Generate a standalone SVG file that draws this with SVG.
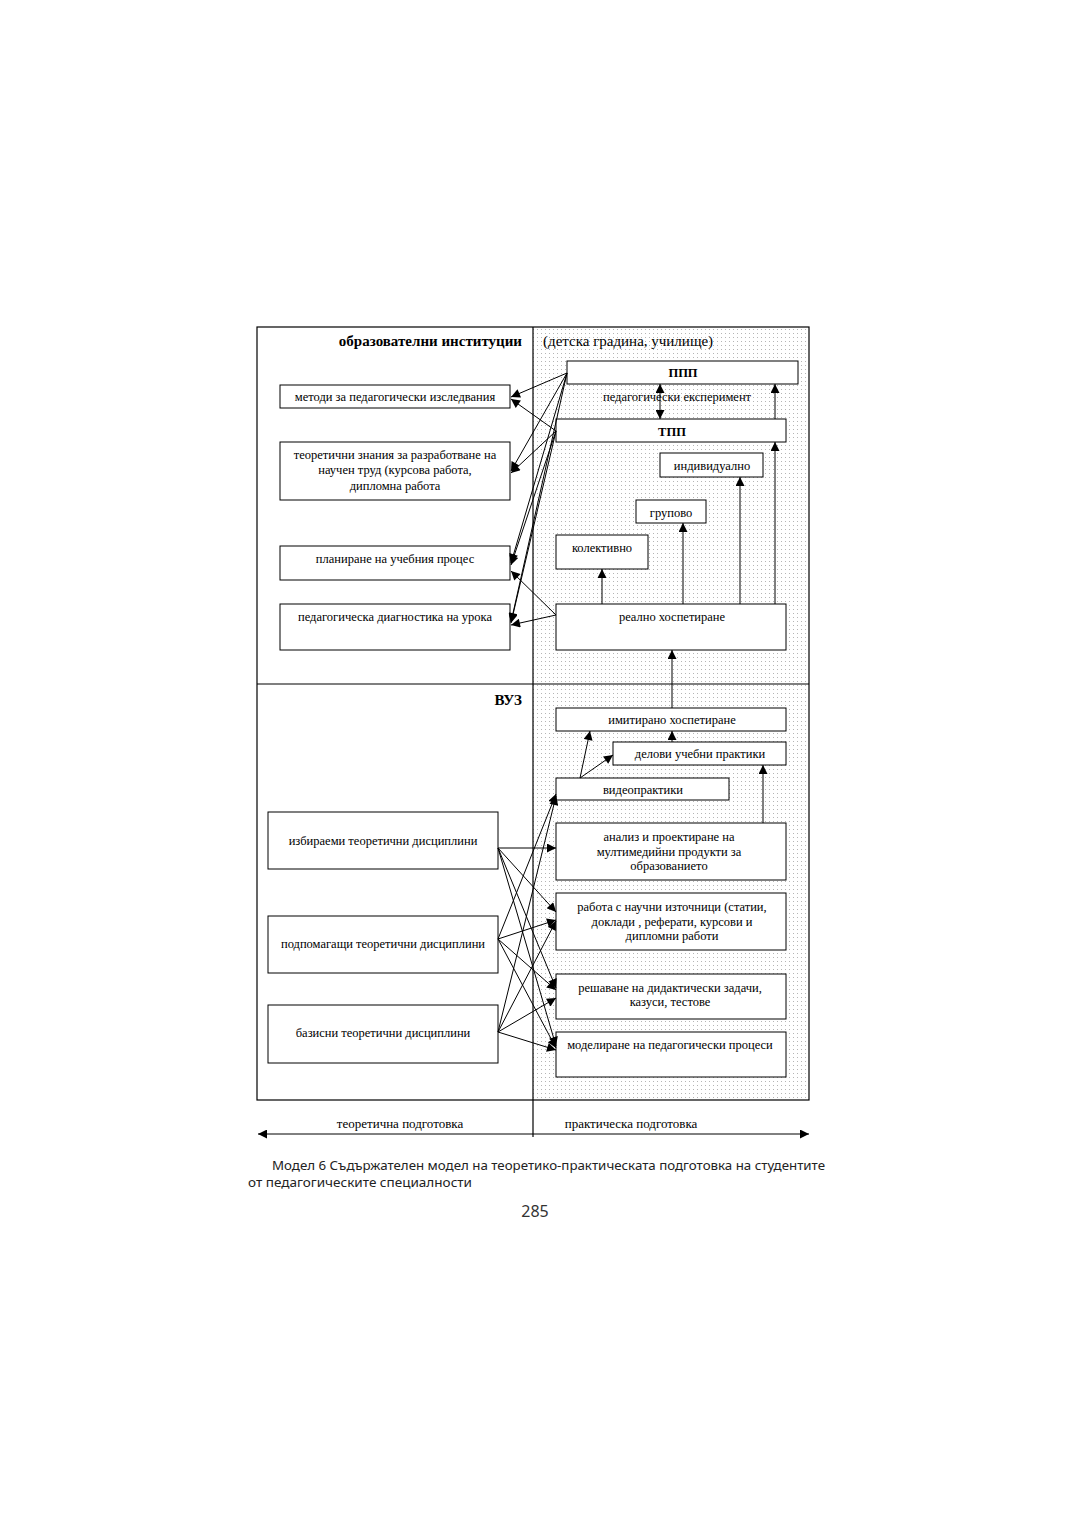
<svg xmlns="http://www.w3.org/2000/svg" width="1080" height="1528" viewBox="0 0 1080 1528">
<defs>
<pattern id="dots" x="0" y="0" width="4" height="4" patternUnits="userSpaceOnUse">
<rect x="1" y="1" width="1" height="1" fill="#b5b5b5"/>
</pattern>
<marker id="ah" viewBox="0 0 10 10" refX="10" refY="5" markerWidth="12" markerHeight="9" markerUnits="userSpaceOnUse" orient="auto-start-reverse">
<path d="M0,0 L10,5 L0,10 z" fill="#000"/>
</marker>
<style>
.box{fill:#fff;stroke:#000;stroke-width:1}
.t{font-family:"Liberation Serif","Times New Roman",serif;font-size:12.5px;fill:#000;text-anchor:middle}
.b{font-weight:bold}
.c{stroke:#000;stroke-width:1;fill:none;marker-end:url(#ah)}
.frame{fill:none;stroke:#000;stroke-width:1.2}
</style>
</defs>
<rect x="0" y="0" width="1080" height="1528" fill="#fff"/>

<g id="frame">
<rect x="533" y="327" width="276" height="773" fill="url(#dots)"/>
<rect x="257" y="327" width="552" height="773" class="frame"/>
<line x1="533" y1="327" x2="533" y2="1137" stroke="#000" stroke-width="1.2"/>
<line x1="257" y1="684" x2="809" y2="684" stroke="#000" stroke-width="1.2"/>
<text x="522" y="346" class="t b" style="font-size:15px;text-anchor:end">образователни институции</text>
<text x="543" y="346" class="t" style="font-size:15px;text-anchor:start">(детска градина, училище)</text>
<text x="522" y="705" class="t b" style="font-size:15px;text-anchor:end">ВУЗ</text>
<text x="677" y="401" class="t">педагогически експеримент</text>
</g>

<g id="n-metodi"><rect x="280" y="385" width="230" height="23" class="box"/><text x="395" y="401" class="t">методи за педагогически изследвания</text></g>
<g id="n-teoretichni"><rect x="280" y="442" width="230" height="58" class="box"/><text x="395" y="459" class="t">теоретични знания за разработване на</text><text x="395" y="474" class="t">научен труд (курсова работа,</text><text x="395" y="490" class="t">дипломна работа</text></g>
<g id="n-planirane"><rect x="280" y="546" width="230" height="34" class="box"/><text x="395" y="563" class="t">планиране на учебния процес</text></g>
<g id="n-diagnostika"><rect x="280" y="604" width="230" height="46" class="box"/><text x="395" y="621" class="t">педагогическа диагностика на урока</text></g>

<g id="n-ppp"><rect x="567" y="361" width="231" height="23" class="box"/><text x="683" y="377" class="t b">ППП</text></g>
<g id="n-tpp"><rect x="556" y="419" width="230" height="23" class="box"/><text x="672" y="436" class="t b">ТПП</text></g>
<g id="n-individualno"><rect x="660" y="453" width="103" height="24" class="box"/><text x="712" y="470" class="t">индивидуално</text></g>
<g id="n-grupovo"><rect x="636" y="500" width="70" height="23" class="box"/><text x="671" y="517" class="t">групово</text></g>
<g id="n-kolektivno"><rect x="556" y="535" width="92" height="34" class="box"/><text x="602" y="552" class="t">колективно</text></g>
<g id="n-realno"><rect x="556" y="604" width="230" height="46" class="box"/><text x="672" y="621" class="t">реално хоспетиране</text></g>

<g id="n-imitirano"><rect x="556" y="708" width="230" height="23" class="box"/><text x="672" y="724" class="t">имитирано хоспетиране</text></g>
<g id="n-delovi"><rect x="613" y="742" width="173" height="23" class="box"/><text x="700" y="758" class="t">делови учебни практики</text></g>
<g id="n-video"><rect x="556" y="778" width="173" height="22" class="box"/><text x="643" y="794" class="t">видеопрактики</text></g>
<g id="n-analiz"><rect x="556" y="823" width="230" height="57" class="box"/><text x="669" y="841" class="t">анализ и проектиране на</text><text x="669" y="856" class="t">мултимедийни продукти за</text><text x="669" y="870" class="t">образованието</text></g>
<g id="n-rabota"><rect x="556" y="893" width="230" height="57" class="box"/><text x="672" y="911" class="t">работа с научни източници (статии,</text><text x="672" y="926" class="t">доклади , реферати, курсови и</text><text x="672" y="940" class="t">дипломни работи</text></g>
<g id="n-reshavane"><rect x="556" y="974" width="230" height="45" class="box"/><text x="670" y="992" class="t">решаване на дидактически задачи,</text><text x="670" y="1006" class="t">казуси, тестове</text></g>
<g id="n-modelirane"><rect x="556" y="1032" width="230" height="45" class="box"/><text x="670" y="1049" class="t">моделиране на педагогически процеси</text></g>

<g id="n-izbiraemi"><rect x="268" y="812" width="230" height="57" class="box"/><text x="383" y="845" class="t">избираеми теоретични дисциплини</text></g>
<g id="n-podpomagashti"><rect x="268" y="916" width="230" height="57" class="box"/><text x="383" y="948" class="t">подпомагащи теоретични дисциплини</text></g>
<g id="n-bazisni"><rect x="268" y="1005" width="230" height="58" class="box"/><text x="383" y="1037" class="t">базисни теоретични дисциплини</text></g>

<g id="connectors">
<line x1="567" y1="373" x2="511" y2="397" class="c"/>
<line x1="556" y1="431" x2="511" y2="399" class="c"/>
<line x1="567" y1="373" x2="511" y2="471" class="c"/>
<line x1="556" y1="431" x2="511" y2="473" class="c"/>
<line x1="567" y1="373" x2="511" y2="563" class="c"/>
<line x1="556" y1="431" x2="511" y2="565" class="c"/>
<line x1="567" y1="373" x2="511" y2="622" class="c"/>
<line x1="556" y1="431" x2="511" y2="623" class="c"/>
<line x1="556" y1="615" x2="511" y2="571" class="c"/>
<line x1="556" y1="615" x2="511" y2="625" class="c"/>

<line x1="602" y1="604" x2="602" y2="569" class="c"/>
<line x1="683" y1="604" x2="683" y2="523" class="c"/>
<line x1="740" y1="604" x2="740" y2="477" class="c"/>
<line x1="775" y1="604" x2="775" y2="442" class="c"/>
<line x1="775" y1="419" x2="775" y2="384" class="c"/>
<line x1="660" y1="384" x2="660" y2="419" class="c" style="marker-start:url(#ah)"/>
<line x1="672" y1="708" x2="672" y2="650" class="c"/>
<line x1="672" y1="742" x2="672" y2="731" class="c"/>
<line x1="763" y1="823" x2="763" y2="765" class="c"/>
<line x1="580" y1="778" x2="590" y2="731" class="c"/>
<line x1="580" y1="778" x2="613" y2="755" class="c"/>

<line x1="498" y1="848" x2="556" y2="848" class="c"/>
<line x1="498" y1="848" x2="556" y2="912" class="c"/>
<line x1="498" y1="848" x2="556" y2="988" class="c"/>
<line x1="498" y1="848" x2="556" y2="1046" class="c"/>
<line x1="498" y1="939" x2="556" y2="794" class="c"/>
<line x1="498" y1="939" x2="556" y2="920" class="c"/>
<line x1="498" y1="939" x2="556" y2="990" class="c"/>
<line x1="498" y1="939" x2="556" y2="1048" class="c"/>
<line x1="498" y1="1032" x2="556" y2="796" class="c"/>
<line x1="498" y1="1032" x2="556" y2="921" class="c"/>
<line x1="498" y1="1032" x2="556" y2="998" class="c"/>
<line x1="498" y1="1032" x2="556" y2="1050" class="c"/>

<line x1="258" y1="1134" x2="809" y2="1134" class="c" style="marker-start:url(#ah)"/>
</g>

<g id="footer">
<text x="400" y="1128" class="t" style="font-size:13px">теоретична подготовка</text>
<text x="631" y="1128" class="t" style="font-size:13px">практическа подготовка</text>
<text x="272" y="1170" textLength="553" lengthAdjust="spacingAndGlyphs" style="font-family:'Noto Sans','Open Sans',sans-serif;font-size:13px;fill:#222">Модел 6 Съдържателен модел на теоретико-практическата подготовка на студентите</text>
<text x="248" y="1187" textLength="224" lengthAdjust="spacingAndGlyphs" style="font-family:'Noto Sans','Open Sans',sans-serif;font-size:13px;fill:#222">от педагогическите специалности</text>
<text x="535" y="1217" style="font-family:'Noto Sans','Open Sans',sans-serif;font-size:16px;fill:#333;text-anchor:middle">285</text>
</g>
</svg>
